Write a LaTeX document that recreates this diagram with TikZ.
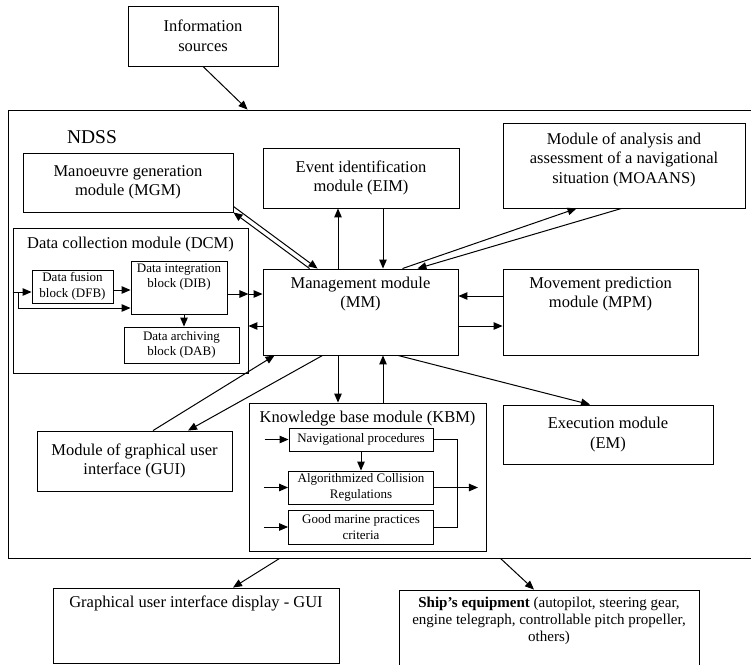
\documentclass[tikz,border=0pt]{standalone}
\usepackage{fontspec}
\setmainfont{Liberation Serif}
\usepackage{tikz}
\usetikzlibrary{arrows.meta,positioning}

\begin{document}
\begin{tikzpicture}[x=1pt,y=-1pt,
        box/.style={draw, line width=0.9pt, inner sep=0pt, align=center, font=\fontsize{16.5}{19.5}\selectfont},
        sbox/.style={box, font=\fontsize{13}{15.5}\selectfont},
        boxtxt/.style={inner sep=2pt, align=center, font=\fontsize{16.5}{19.5}\selectfont},
        sboxtxt/.style={boxtxt, inner sep=1pt, font=\fontsize{13}{15.5}\selectfont},
        arr/.style={->, >={Triangle[length=9pt,width=7.5pt]}, line width=1pt}]
          \useasboundingbox (0,0) rectangle (751,664);

          %information sources and NDSS frame
          \node[box, minimum width=150, minimum height=60] (info) at (203,36) {Information\\sources};
          \node[draw, line width=0.9pt, inner sep=0pt, minimum width=744, minimum height=448] (ndss) at (380,334) {};
          \node[font=\fontsize{19.5}{23}\selectfont] (ndsslbl) at (92,137) {NDSS};

          %modules round the management module
          \node[box, minimum width=210, minimum height=59] (mgm) at (128,182.5) {Manoeuvre generation\\module (MGM)};
          \node[box, minimum width=196, minimum height=60] (eim) at (361,178) {Event identification\\module (EIM)};
          \node[box, minimum width=242, minimum height=85] (moaans) at (624,165.5) {};
          \node[boxtxt, below=8pt of moaans.north] (moaanstxt) {Module of analysis and\\assessment of a navigational\\situation (MOAANS)};
          \node[box, minimum width=195, minimum height=86] (mpm) at (600.5,312) {};
          \node[boxtxt, below=6pt of mpm.north] (mpmtxt) {Movement prediction\\module (MPM)};
          \node[box, minimum width=195, minimum height=86] (mm) at (360.5,312) {};
          \node[boxtxt, below=6pt of mm.north] (mmtxt) {Management module\\(MM)};
          \node[box, minimum width=210, minimum height=59] (em) at (608,434.5) {Execution module\\(EM)};
          \node[box, minimum width=195, minimum height=60] (gui) at (134.5,461) {Module of graphical user\\interface (GUI)};

          %data collection module
          \node[box, minimum width=235, minimum height=145] (dcm) at (130.5,300.5) {};
          \node[boxtxt, below=7pt of dcm.north] (dcmtxt) {Data collection module (DCM)};
          \node[sbox, minimum width=81, minimum height=33] (dfb) at (72.5,286.5) {Data fusion\\block (DFB)};
          \node[sbox, minimum width=96, minimum height=53] (dib) at (179,287.5) {};
          \node[sboxtxt, below=2pt of dib.north] (dibtxt) {Data integration\\block (DIB)};
          \node[sbox, minimum width=115, minimum height=36] (dab) at (181.5,345) {Data archiving\\block (DAB)};

          %knowledge base module
          \node[box, minimum width=237, minimum height=148] (kbm) at (367.5,477) {};
          \node[boxtxt, below=6pt of kbm.north] (kbmtxt) {Knowledge base module (KBM)};
          \node[sbox, minimum width=144, minimum height=23] (nav) at (361,439.5) {Navigational procedures};
          \node[sbox, minimum width=145, minimum height=33] (acr) at (361,487.5) {Algorithmized Collision\\Regulations};
          \node[sbox, minimum width=145, minimum height=34] (gmp) at (361,527) {Good marine practices\\criteria};

          %outputs
          \node[box, minimum width=286, minimum height=75] (guid) at (196,625.5) {};
          \node[boxtxt, below=6pt of guid.north] (guidtxt) {Graphical user interface display - GUI};
          \node[box, minimum width=300, minimum height=78] (ship) at (549,629) {};
          \node[boxtxt, below=5pt of ship.north, font=\fontsize{15}{17}\selectfont] (shiptxt) {\textbf{Ship’s equipment} (autopilot, steering gear,\\engine telegraph, controllable pitch propeller,\\others)};

          %connectors
          \draw[arr] (info.south) -- ([xshift=240pt]ndss.north west);
          \draw[arr] ([xshift=47pt]mm.north west) -- (mgm.south east);
          \draw[arr] ([yshift=6pt]mgm.south east) -- ([xshift=55pt]mm.north west);
          \draw[arr] ([xshift=-22.5pt]mm.north) -- ([xshift=-23pt]eim.south);
          \draw[arr] ([xshift=22pt]eim.south) -- ([xshift=22.5pt]mm.north);
          \draw[arr] ([xshift=-56pt]mm.north east) -- ([xshift=74pt]moaans.south west);
          \draw[arr] ([xshift=119pt]moaans.south west) -- ([xshift=-41pt]mm.north east);
          \draw[arr] ([yshift=16pt]mpm.west) -- ([yshift=16pt]mm.east);
          \draw[arr] ([yshift=-14pt]mm.east) -- ([yshift=-14pt]mpm.west);
          \draw[arr] ([xshift=37.5pt]mm.south) -- ([xshift=-18pt]em.north);
          \draw[arr] ([xshift=18.5pt]gui.north) -- ([xshift=12pt]mm.south west);
          \draw[arr] ([xshift=60pt]mm.south west) -- ([xshift=53.5pt]gui.north);
          \draw[arr] ([xshift=-22.5pt]mm.south) -- ([xshift=-29.5pt]kbm.north);
          \draw[arr] ([xshift=15.5pt]kbm.north) -- ([xshift=22.5pt]mm.south);

          %inside the data collection module
          \coordinate (split) at ([xshift=6pt,yshift=8.5pt]dcm.west);
          \draw[arr] ([yshift=8.5pt]dcm.west) -- ([yshift=-5.5pt]dfb.west);
          \draw[arr] (split) |- ([yshift=-20.5pt]dib.west);
          \draw[arr] ([yshift=-3.5pt]dfb.east) -- ([yshift=-2.5pt]dib.west);
          \draw[arr] ([xshift=5pt]dib.south) -- ([xshift=2.5pt]dab.north);
          \draw[arr] ([yshift=-6.5pt]dib.east) -- ([yshift=6.5pt]dcm.east);
          \draw[arr] ([yshift=6.5pt]dcm.east) -- ([yshift=18pt]mm.west);
          \draw[arr] ([yshift=-14pt]mm.west) -- ([yshift=-25.5pt]dcm.east);

          %inside the knowledge base module
          \draw[arr] ([xshift=-24pt]nav.west) -- (nav.west);
          \draw[arr] ([xshift=-24pt]acr.west) -- (acr.west);
          \draw[arr] ([xshift=-24pt]gmp.west) -- (gmp.west);
          \draw[arr] (nav.south) -- (acr.north);
          \draw[line width=1pt] (nav.east) -- ++(24,0) |- (gmp.east);
          \draw[arr] (acr.east) -- ([xshift=44pt]acr.east);

          %outputs of NDSS
          \draw[arr] ([xshift=272pt]ndss.south west) -- ([xshift=37pt]guid.north);
          \draw[arr] ([xshift=493pt]ndss.south west) -- ([xshift=-15pt]ship.north);
    \end{tikzpicture}
\end{document}
